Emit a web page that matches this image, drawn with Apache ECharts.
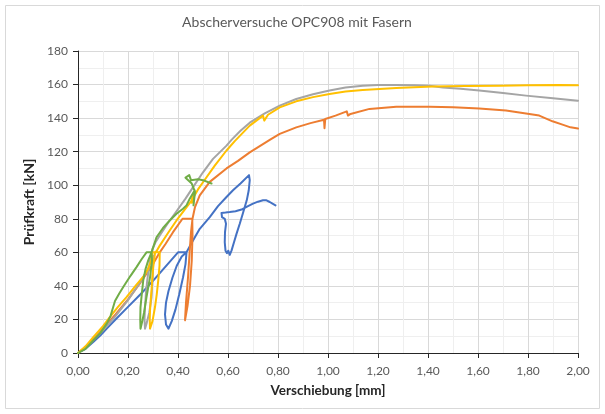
<!DOCTYPE html>
<html>
<head>
<meta charset="utf-8">
<script src="https://cdn.jsdelivr.net/npm/echarts@6/dist/echarts.min.js"></script>
<style>
  html, body { margin: 0; padding: 0; background: #fff; }
  #chart { width: 605px; height: 414px; }
</style>
</head>
<body>
<div id="chart"></div>
<script>
// Shear tests OPC908 with fibres: displacement [mm] vs. test load [kN]
const chartTitle = 'Abscherversuche OPC908 mit Fasern';
const xAxisName = 'Verschiebung [mm]';
const yAxisName = 'Prüfkraft [kN]';
const xTicks = { min: 0, max: 2, step: 0.2 };
const yTicks = { min: 0, max: 180, step: 20 };

// Specimen 1 (blue)
const probe1 = [
  [0,0],[0.03,2.5],[0.061,6.5],[0.09,10.5],[0.115,14.5],[0.15,20],[0.2,27.5],[0.25,35],
  [0.3,43],[0.35,51.5],[0.40,60],[0.434,60],[0.43,53],[0.42,45],[0.405,35],[0.39,26],
  [0.375,19],[0.362,14.5],[0.352,17],[0.348,23],[0.352,30],[0.362,37],[0.378,45],
  [0.395,52],[0.415,57.5],[0.434,60],[0.46,67],[0.487,74],[0.527,81],[0.56,87.5],
  [0.594,93],[0.62,97],[0.65,101],[0.684,106],[0.687,103],[0.683,97],[0.675,91],
  [0.667,87],[0.657,82],[0.647,77],[0.634,71],[0.624,66],[0.614,61],[0.607,58.5],
  [0.601,61],[0.596,59.5],[0.59,61],[0.587,66],[0.588,72],[0.592,77],[0.587,80],
  [0.576,81],[0.574,83.5],[0.59,83.7],[0.607,84],[0.63,84.5],[0.654,85.5],[0.68,87.5],
  [0.70,89],[0.72,90.2],[0.74,91],[0.754,91],[0.767,90],[0.778,89],[0.79,88]
];
// Specimen 2 (orange)
const probe2 = [
  [0,0],[0.03,3.5],[0.06,8],[0.1,14.5],[0.15,23],[0.2,32],[0.25,42],[0.3,53],
  [0.327,60],[0.35,65],[0.38,72],[0.418,80],[0.457,80],[0.458,70],[0.455,55],
  [0.448,40],[0.438,28],[0.428,19.5],[0.432,30],[0.44,45],[0.447,61],[0.452,72],
  [0.458,80],[0.468,87],[0.487,94],[0.527,102],[0.594,110],[0.64,114.5],[0.687,119.6],
  [0.767,127],[0.807,130.6],[0.873,134.5],[0.93,137],[0.984,139],[0.986,134],
  [0.989,139.5],[1.03,141.5],[1.075,144],[1.08,141.5],[1.09,142.5],[1.166,145.5],
  [1.273,146.8],[1.406,146.8],[1.5,146.5],[1.605,145.8],[1.712,144.5],[1.792,142.8],
  [1.845,141.5],[1.898,138.1],[1.938,136.1],[1.97,134.5],[2.0,133.8]
];
// Specimen 3 (grey)
const probe3 = [
  [0,0],[0.03,3],[0.06,7.5],[0.1,13.5],[0.15,22],[0.2,31.5],[0.25,42.5],[0.28,50],
  [0.293,55],[0.301,58],[0.299,46],[0.294,33],[0.285,24],[0.274,17.5],[0.268,14.5],
  [0.266,20],[0.268,27.4],[0.272,36],[0.277,43.3],[0.284,51],[0.29,57],[0.298,62],
  [0.31,66],[0.327,70],[0.36,77.5],[0.394,84.5],[0.43,92],[0.461,99],[0.5,107.7],
  [0.54,115.7],[0.594,123.6],[0.614,127],[0.65,132.5],[0.687,137.3],[0.747,142.8],
  [0.807,147.4],[0.873,151.4],[0.94,154.2],[1.006,156.4],[1.07,158.2],[1.139,159.3],
  [1.2,159.8],[1.273,159.8],[1.35,159.6],[1.406,159.3],[1.459,158.3],[1.53,157.5],
  [1.605,156.4],[1.7,155],[1.792,153.4],[1.9,151.8],[2.0,150.4]
];
// Specimen 4 (yellow)
const probe4 = [
  [0,0],[0.03,4],[0.061,9.5],[0.1,16],[0.128,21.5],[0.16,27.5],[0.194,33.3],[0.23,40],
  [0.261,45.5],[0.28,50],[0.292,55],[0.298,60],[0.315,60],[0.327,60],[0.326,52],
  [0.321,43.3],[0.315,35],[0.308,27.4],[0.298,19],[0.288,14.5],[0.287,20],[0.288,25],
  [0.291,32],[0.294,37.3],[0.297,44],[0.301,51.2],[0.305,56],[0.308,59.5],[0.315,61],
  [0.327,64],[0.36,71.5],[0.394,79],[0.43,86],[0.455,91],[0.459,94],[0.456,89.5],
  [0.461,92.5],[0.48,97.5],[0.5,101.8],[0.547,111.7],[0.594,120.7],[0.627,126.3],
  [0.687,135.5],[0.74,141.5],[0.745,138.5],[0.751,139],[0.76,142],[0.807,146.4],
  [0.873,150],[0.94,152.5],[1.006,154.4],[1.07,155.8],[1.139,156.8],[1.273,158],
  [1.419,158.9],[1.55,159.1],[1.685,159.3],[1.8,159.6],[1.925,159.8],[2.0,159.6]
];
// Specimen 5 (green)
const probe5 = [
  [0,0],[0.03,2.5],[0.061,7.5],[0.09,12],[0.115,17.5],[0.13,22],[0.148,31],[0.165,35.5],
  [0.181,39.3],[0.21,46],[0.234,51.2],[0.255,56],[0.274,60],[0.294,60],[0.296,55],
  [0.288,45],[0.274,33.3],[0.264,24],[0.258,19.5],[0.25,14.5],[0.249,20],[0.25,27.4],
  [0.255,35],[0.261,43.3],[0.27,50],[0.281,55.2],[0.294,60],[0.314,69],[0.34,74.5],
  [0.367,79],[0.394,83],[0.42,86],[0.434,88],[0.447,92],[0.467,97],[0.462,88],
  [0.468,96],[0.455,101],[0.43,104.5],[0.445,106],[0.452,103],[0.48,103.5],[0.5,103],
  [0.534,101]
];

const seriesData = [probe1, probe2, probe3, probe4, probe5];
const seriesColors = ['#4472C4', '#ED7D31', '#A5A5A5', '#FFC000', '#70AD47'];

const fontFamily = 'Lato, "Liberation Sans", sans-serif';
const chart = echarts.init(document.getElementById('chart'), null, { renderer: 'canvas' });

chart.setOption({
  animation: false,
  backgroundColor: '#ffffff',
  textStyle: { fontFamily: fontFamily },
  graphic: [
    {
      type: 'rect',
      shape: { x: 5.5, y: 5.5, width: 594, height: 403 },
      style: { fill: 'none', stroke: '#d9d9d9', lineWidth: 1 },
      silent: true
    },
    {
      type: 'text',
      x: 297, y: 22,
      style: {
        text: chartTitle,
        fill: '#595959',
        font: '14px ' + fontFamily,
        textAlign: 'center',
        textVerticalAlign: 'middle'
      }
    }
  ],
  grid: { left: 78, right: 27, top: 51, bottom: 61, containLabel: false },
  xAxis: {
    type: 'value',
    min: xTicks.min, max: xTicks.max, interval: xTicks.step,
    name: xAxisName,
    nameLocation: 'middle',
    nameGap: 31,
    nameTextStyle: { fontWeight: 'bold', fontSize: 13.5, color: '#262626' },
    axisLine: { show: true, onZero: false, lineStyle: { color: '#262626', width: 1 } },
    axisTick: { show: true, inside: false, length: 5, lineStyle: { color: '#262626' } },
    axisLabel: {
      color: '#595959', fontSize: 12, margin: 12,
      formatter: v => v.toFixed(2).replace('.', ',')
    },
    splitLine: { show: true, lineStyle: { color: '#d9d9d9', width: 1 } },
    minorTick: { show: false, splitNumber: 2 },
    minorSplitLine: { show: true, lineStyle: { color: '#efefef', width: 1 } }
  },
  yAxis: {
    type: 'value',
    min: yTicks.min, max: yTicks.max, interval: yTicks.step,
    name: yAxisName,
    nameLocation: 'middle',
    nameGap: 37,
    nameRotate: 90,
    nameTextStyle: { fontWeight: 'bold', fontSize: 14, color: '#262626' },
    axisLine: { show: true, onZero: false, lineStyle: { color: '#262626', width: 1 } },
    axisTick: { show: true, inside: false, length: 5, lineStyle: { color: '#262626' } },
    axisLabel: { color: '#595959', fontSize: 12, margin: 10 },
    splitLine: { show: true, lineStyle: { color: '#d9d9d9', width: 1 } },
    minorTick: { show: false, splitNumber: 2 },
    minorSplitLine: { show: true, lineStyle: { color: '#efefef', width: 1 } }
  },
  series: seriesData.map((d, i) => ({
    type: 'line',
    data: d,
    showSymbol: false,
    symbol: 'none',
    smooth: false,
    clip: true,
    lineStyle: { color: seriesColors[i], width: 2, cap: 'round', join: 'round' },
    z: 2 + i
  }))
});
</script>
</body>
</html>
